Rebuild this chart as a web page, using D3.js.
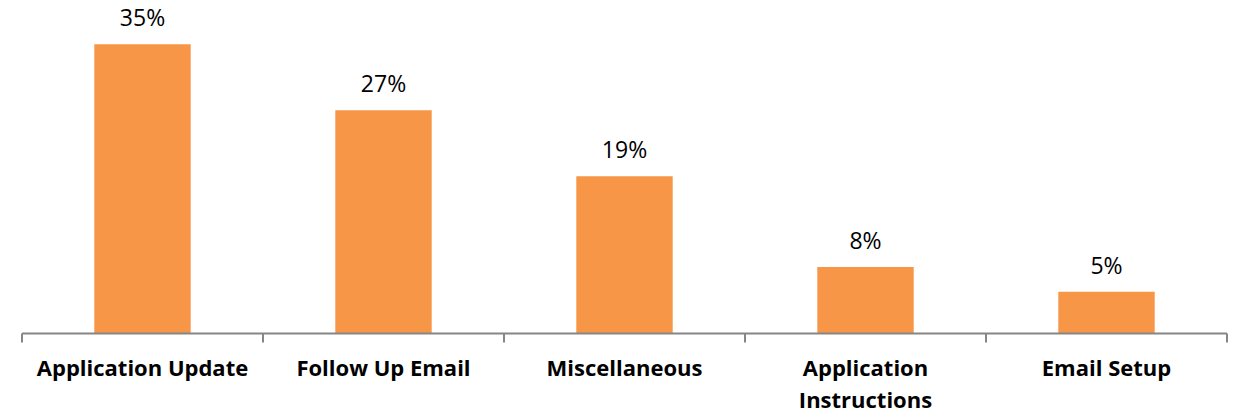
<!DOCTYPE html>
<html>
<head>
<meta charset="utf-8">
<script src="https://cdn.jsdelivr.net/npm/d3@7"></script>
<style>
  body { margin: 0; background: #fff; }
  svg { display: block; }
</style>
</head>
<body>
<svg id="chart" width="1238" height="415"></svg>
<script>
const categories = ["Application Update", "Follow Up Email", "Miscellaneous", "Application Instructions", "Email Setup"];
const values = [35, 27, 19, 8, 5];
const valueLabels = ["35%", "27%", "19%", "8%", "5%"];

const width = 1238, height = 415;
const margin = { left: 22, right: 11, top: 3, bottom: 82 };
const svg = d3.select("#chart");

const x = d3.scaleBand()
  .domain(categories)
  .range([margin.left, width - margin.right])
  .paddingInner(0.6)
  .paddingOuter(0.3);

const y = d3.scaleLinear()
  .domain([0, 40])
  .range([height - margin.bottom, margin.top]);

const data = categories.map((c, i) => ({ cat: c, value: values[i], label: valueLabels[i] }));

// bars
svg.selectAll(".bar")
  .data(data)
  .join("rect")
  .attr("class", "bar")
  .attr("x", d => x(d.cat))
  .attr("y", d => y(d.value))
  .attr("width", x.bandwidth())
  .attr("height", d => y(0) - y(d.value))
  .attr("fill", "#F79646");

// value labels
svg.selectAll(".value-label")
  .data(data)
  .join("text")
  .attr("class", "value-label")
  .attr("x", d => x(d.cat) + x.bandwidth() / 2)
  .attr("y", d => y(d.value) - 18)
  .attr("text-anchor", "middle")
  .style("font-family", "'Open Sans', sans-serif")
  .style("font-size", "23px")
  .style("fill", "#000")
  .text(d => d.label);

// axis line and ticks between categories
const axisColor = "#868686";
const y0 = Math.round(y(0)) + 0.5;
svg.append("line")
  .attr("x1", x.range()[0]).attr("x2", x.range()[1])
  .attr("y1", y0).attr("y2", y0)
  .attr("stroke", axisColor).attr("stroke-width", 2);

const step = x.step();
const bounds = categories.map(c => x(c) - step * x.paddingInner() / 2);
bounds.push(x.range()[1]);
bounds[0] = x.range()[0];
svg.selectAll(".tick")
  .data(bounds)
  .join("line")
  .attr("class", "tick")
  .attr("x1", d => Math.round(d)).attr("x2", d => Math.round(d))
  .attr("y1", y0).attr("y2", y0 + 9)
  .attr("stroke", axisColor).attr("stroke-width", 2);

// category labels, wrapped to the band width
const cat = svg.selectAll(".cat-label")
  .data(data)
  .join("text")
  .attr("class", "cat-label")
  .attr("x", d => x(d.cat) + x.bandwidth() / 2)
  .attr("y", y0 + 42)
  .attr("text-anchor", "middle")
  .style("font-family", "'Open Sans', sans-serif")
  .style("font-weight", "bold")
  .style("font-size", "22px")
  .style("fill", "#000");

cat.each(function (d) {
  const t = d3.select(this);
  const words = d.cat.split(" ");
  let line = [];
  let lines = [];
  const probe = t.append("tspan");
  words.forEach(w => {
    const test = line.concat(w).join(" ");
    probe.text(test);
    if (probe.node().getComputedTextLength() > step - 10 && line.length) {
      lines.push(line.join(" "));
      line = [w];
    } else {
      line.push(w);
    }
  });
  lines.push(line.join(" "));
  probe.remove();
  lines.forEach((l, i) => {
    t.append("tspan")
      .attr("x", x(d.cat) + x.bandwidth() / 2)
      .attr("dy", i === 0 ? 0 : 32)
      .text(l);
  });
});
</script>
</body>
</html>
